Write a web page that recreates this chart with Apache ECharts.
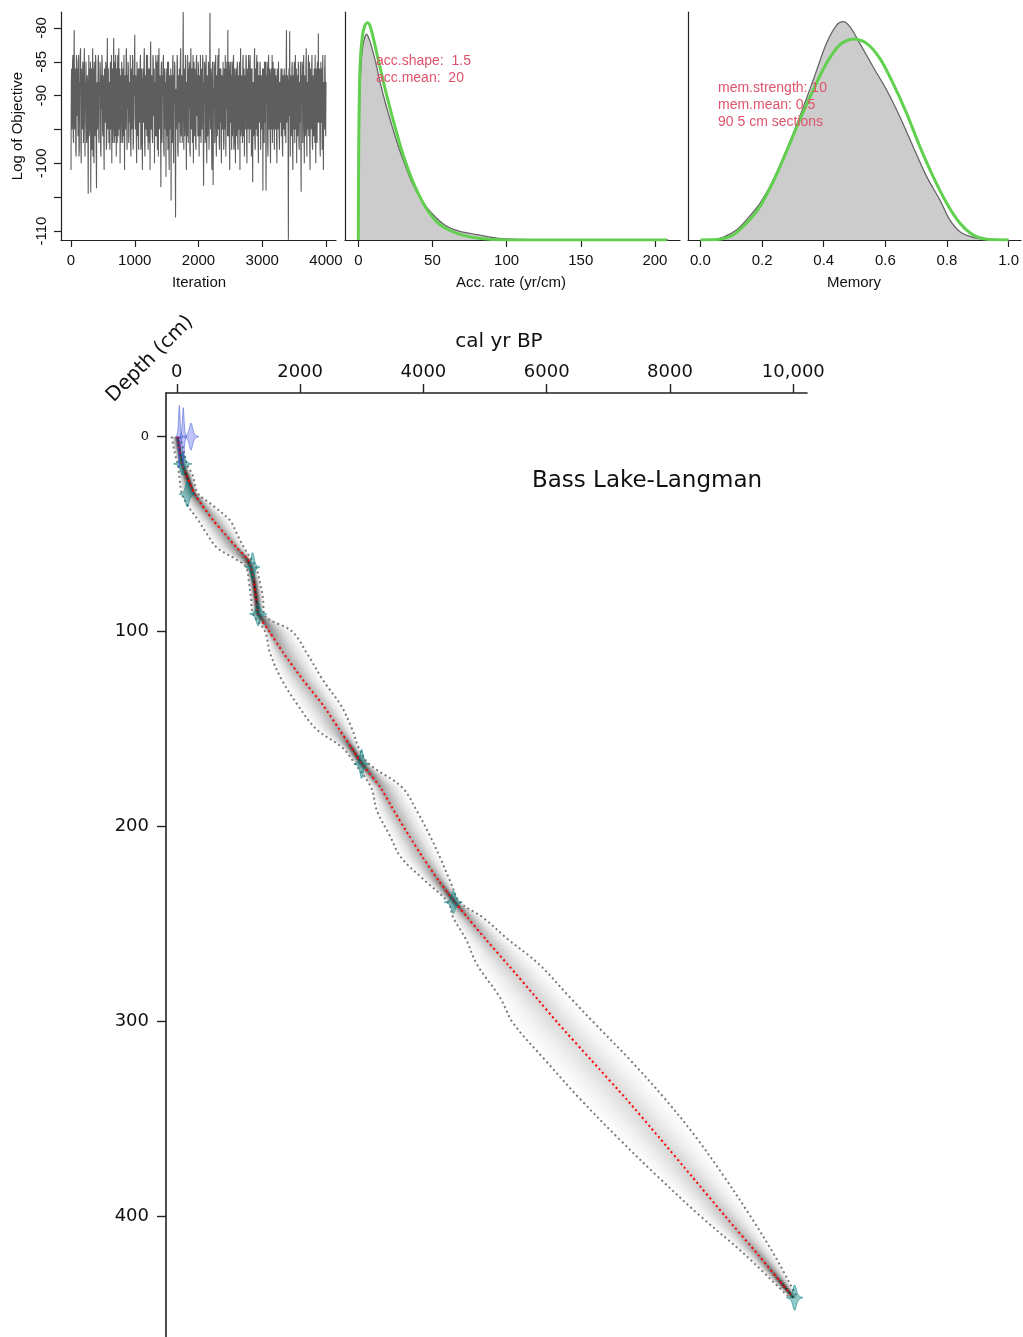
<!DOCTYPE html>
<html><head><meta charset="utf-8">
<script src="https://cdn.jsdelivr.net/npm/echarts@6/dist/echarts.min.js"></script>
<style>html,body{margin:0;padding:0;background:#fff}#c{width:1023px;height:1337px}</style>
</head><body><div id="c"></div>
<script>
// ---------- MCMC trace (Log of Objective) ----------
const traceStep = 5;
const traceValues = [
-101,-88,-86,-95,-93,-85,-84,-96,-97,-87,-80.3,-94,-95,-86,-87,-98,-99,-84,-85,-93,-92,-86,-96,-85,-84,-99,-98,-88,-89,-84,-83,-97,-100,-86,-88,-95,-94,-85,-86,-97,
-97,-86,-83,-94,-99,-88,-90,-85,-85,-97,-96,-87,-88,-95,-104.5,-89,-84,-96,-95,-86,-91,-85,-104.3,-90,-86,-95,-98,-87,-83,-99,-93,-86,-100,-85,-87,-96,-95,-84,-85,-98,
-103.7,-89,-88,-95,-94,-85,-84,-96,-97,-88,-90,-85,-86,-98,-99,-87,-92,-84,-85,-95,-96,-87,-89,-97,-101,-86,-87,-94,-94,-85,-86,-98,-97,-88,-81.5,-93,-95,-86,-91,-97,
-88,-96,-98,-86,-85,-95,-93,-84,-100,-89,-86,-97,-95,-87,-81.5,-92,-97,-85,-89,-96,-84,-93,-99,-86,-91,-97,-86,-84,-96,-88,-83,-95,-94,-86,-100,-87,-88,-97,-92,-85,
-85,-94,-97,-86,-90,-96,-84,-93,-101,-88,-87,-95,-95,-84,-83,-96,-98,-87,-92,-85,-86,-97,-96,-88,-89,-94,-84,-97,-99,-86,-88,-95,-94,-84,-85,-98,-97,-87,-90,-86,
-81,-93,-95,-87,-88,-97,-100,-85,-85,-96,-93,-86,-98,-89,-86,-94,-91,-85,-84,-98,-97,-86,-89,-95,-101,-88,-86,-93,-94,-85,-83,-97,-99,-87,-90,-95,-87,-84,-96,-88,
-84,-95,-98,-86,-92,-97,-86,-89,-101,-85,-82,-94,-95,-87,-89,-96,-97,-84,-85,-93,-93,-86,-100,-89,-88,-96,-84,-87,-96,-85,-91,-98,-86,-84,-99,-89,-83,-95,-94,-87,
-88,-95,-103.5,-86,-85,-97,-96,-87,-90,-85,-84,-98,-99,-86,-87,-94,-95,-88,-102,-86,-86,-96,-93,-85,-98,-89,-85,-97,-101,-87,-89,-95,-94,-86,-105.5,-88,-87,-96,-97,-85,
-84,-96,-100,-87,-91,-85,-86,-97,-108,-90,-89,-95,-95,-84,-85,-98,-99,-87,-90,-94,-86,-93,-97,-85,-83,-95,-96,-87,-88,-97,-91,-86,-77.6,-93,-98,-86,-87,-96,-94,-84,
-85,-95,-101,-88,-89,-96,-84,-93,-97,-86,-92,-85,-86,-98,-99,-87,-83,-94,-95,-86,-90,-97,-87,-84,-100,-89,-85,-96,-94,-86,-88,-97,-98,-85,-84,-93,-92,-87,-96,-85,
-86,-94,-99,-87,-90,-96,-84,-93,-97,-86,-88,-95,-95,-84,-85,-97,-103.3,-88,-91,-85,-87,-97,-96,-86,-84,-95,-100,-87,-89,-96,-93,-85,-86,-98,-98,-87,-77.8,-92,-95,-86,
-88,-96,-101,-87,-85,-94,-103.2,-89,-92,-85,-86,-97,-97,-86,-84,-95,-99,-87,-90,-96,-87,-84,-95,-88,-83,-97,-98,-86,-91,-94,-86,-97,-100,-87,-88,-95,-94,-85,-85,-98,
-97,-86,-89,-95,-84,-93,-99,-86,-92,-85,-86,-96,-80.3,-92,-96,-85,-88,-97,-101,-86,-85,-94,-93,-87,-98,-85,-87,-96,-90,-85,-84,-98,-97,-86,-89,-94,-100,-87,-86,-96,
-94,-86,-85,-97,-98,-87,-90,-95,-86,-85,-101,-88,-83,-96,-95,-87,-88,-93,-97,-85,-84,-96,-92,-86,-99,-88,-87,-95,-95,-84,-85,-97,-100,-86,-89,-95,-93,-84,-86,-97,
-97,-86,-84,-95,-91,-86,-99,-87,-86,-94,-102.8,-89,-88,-96,-95,-85,-83,-97,-98,-86,-90,-95,-86,-84,-96,-89,-85,-97,-100,-87,-89,-94,-94,-85,-86,-98,-98,-87,-87,-95,
-92,-86,-104,-88,-86,-96,-97,-85,-89,-94,-85,-96,-104,-87,-91,-85,-87,-97,-99,-86,-84,-93,-95,-86,-88,-97,-100,-87,-86,-95,-93,-84,-97,-89,-85,-95,-90,-86,-98,-88,
-86,-94,-95,-87,-89,-97,-100,-86,-87,-95,-93,-85,-85,-96,-98,-88,-90,-94,-88,-86,-96,-89,-86,-97,-99,-87,-91,-95,-88,-86,-94,-96,-87,-89,-97,-86,-80.3,-94,-92,-87,
-89,-95,-111.3,-88,-86,-93,-80.5,-91,-99,-87,-88,-96,-95,-86,-85,-97,-101,-87,-90,-95,-86,-85,-97,-89,-84,-95,-93,-86,-100,-88,-87,-96,-94,-85,-86,-97,-98,-88,-89,-94,
-85,-96,-104.2,-87,-91,-85,-86,-97,-97,-86,-84,-95,-100,-87,-88,-96,-95,-86,-83,-94,-99,-88,-90,-95,-86,-84,-96,-89,-85,-97,-101,-86,-89,-95,-93,-86,-84,-97,-98,-87,
-87,-96,-95,-86,-90,-97,-84,-93,-100,-87,-86,-95,-97,-85,-88,-94,-80.8,-90,-94,-87,-86,-97,-99,-88,-85,-94,-92,-86,-98,-87,-84,-96,-101,-88,-89,-95,-86,-84,-91,-96,
-88];
const traceXTicks = [0, 1000, 2000, 3000, 4000];
const traceYTicks = [-110, -105, -100, -95, -90, -85, -80];
const traceYLabels = [-110, -100, -90, -85, -80];

// ---------- Accumulation rate ----------
const accPostX = [0, 0.5, 1.5, 3, 5.6, 7.9, 11.3, 14.6, 18.0, 22.5, 27.0, 31.5, 36.0, 42.7, 49.5, 58.5, 67.4, 80.9, 94.4, 110, 130, 209];
const accPostY = [0, 0.018, 0.029, 0.034, 0.0361, 0.0348, 0.0316, 0.0278, 0.0243, 0.0202, 0.0164, 0.0132, 0.0102, 0.0070, 0.0047, 0.0026, 0.0016, 0.0009, 0.0003, 0.0001, 0, 0];
const accPriorX = [0, 0.3, 1.15, 2.72, 4.52, 6.32, 8.11, 10.13, 13.5, 16.9, 20.2, 24.7, 29.2, 33.7, 38.2, 42.7, 47.2, 54.0, 60.7, 69.7, 80.9, 98.9, 208];
const accPriorY = [0, 0.017, 0.0304, 0.0357, 0.0377, 0.0381, 0.0374, 0.0354, 0.0316, 0.0278, 0.0243, 0.0199, 0.0158, 0.0123, 0.0094, 0.0070, 0.0050, 0.0029, 0.0018, 0.0009, 0.0003, 0, 0];
const accTicks = [0, 50, 100, 150, 200];

// ---------- Memory ----------
const memPostX = [0.04, 0.073, 0.117, 0.149, 0.193, 0.236, 0.279, 0.322, 0.366, 0.409, 0.442, 0.463, 0.485, 0.517, 0.560, 0.604, 0.647, 0.690, 0.734, 0.777, 0.809, 0.842, 0.885, 0.939];
const memPostY = [0, 0.033, 0.123, 0.246, 0.451, 0.737, 1.105, 1.514, 1.965, 2.415, 2.640, 2.681, 2.620, 2.415, 2.128, 1.842, 1.514, 1.146, 0.778, 0.491, 0.246, 0.102, 0.033, 0];
const memPriorX = [0, 0.063, 0.106, 0.149, 0.193, 0.236, 0.279, 0.322, 0.366, 0.409, 0.452, 0.495, 0.539, 0.582, 0.625, 0.669, 0.712, 0.755, 0.799, 0.842, 0.885, 0.929, 1.0];
const memPriorY = [0, 0.008, 0.061, 0.205, 0.409, 0.716, 1.085, 1.474, 1.842, 2.170, 2.395, 2.468, 2.415, 2.231, 1.924, 1.556, 1.146, 0.778, 0.451, 0.205, 0.061, 0.008, 0];
const memTicks = [0, 0.2, 0.4, 0.6, 0.8, 1.0];

// ---------- Age-depth model ----------
const modelDepth = [0,5,10,14,20,29,35,43,50,57,63,67,75,83,91,100,111,125,138,150,160,168,180,192,205,216,228,239,247,258,271,288,301,320,340,360,380,400,420,442];
const modelMin  = [-83,-54,-21,15,40,80,170,349,490,652,960,1122,1171,1204,1236,1430,1512,1706,1966,2258,2696,2890,3150,3247,3458,3637,4026,4399,4485,4690,4870,5244,5454,5973,6541,7157,7806,8487,9217,9935];
const modelMean = [14,38,62,85,160,285,405,592,782,972,1155,1204,1252,1285,1317,1500,1728,2050,2376,2630,2840,3004,3300,3520,3770,3990,4250,4513,4720,5010,5370,5830,6180,6720,7290,7830,8360,8890,9430,9999];
const modelMax  = [52,92,133,160,260,340,571,863,976,1090,1210,1285,1350,1398,1414,1870,2107,2371,2663,2842,2955,3118,3653,3891,4108,4269,4432,4594,4972,5370,5880,6380,6770,7354,7920,8430,8880,9300,9690,10064];

// calibrated dates (teal)
const calDepth = [14, 29.5, 67, 91, 168, 239, 442];
const calAge   = [95, 170, 1229, 1320, 2998, 4486, 10021];
const calErr   = [36, 32, 28, 34, 28, 36, 32];
// non-calibrated dates (blue)
const c0Depth = [0, 0, 0];
const c0Age   = [41, 105, 230];
const c0Err   = [13, 14, 30];

const ageTicks = [0, 2000, 4000, 6000, 8000, 10000];
const depthTicks = [0, 100, 200, 300, 400];

// ---------- rendering ----------
const chart = echarts.init(document.getElementById('c'), null, {renderer: 'canvas'});
const TOP_FONT = 'Liberation Sans';
const MAIN_FONT = 'DejaVu Sans';
const pink = '#DF536B';
const green = '#61D04F';

function pairs(xs, ys) { return xs.map((x, i) => [x, ys[i]]); }

function grey(v) { const g = Math.round(255 * (1 - v)); return 'rgb(' + g + ',' + g + ',' + g + ')'; }

function renderBand(params, api) {
  const i = params.dataIndex;
  if (i >= modelDepth.length - 1) return null;
  const a0 = api.coord([modelMean[i], modelDepth[i]]);
  const a1 = api.coord([modelMean[i + 1], modelDepth[i + 1]]);
  const n = Math.max(1, Math.ceil(Math.abs(a1[1] - a0[1]) / 2));
  const lerp = (arr, t) => arr[i] + (arr[i + 1] - arr[i]) * t;
  const children = [];
  for (let k = 0; k < n; k++) {
    const t0 = k / n, t1 = (k + 1) / n, tm = (t0 + t1) / 2;
    const d0 = lerp(modelDepth, t0), d1 = lerp(modelDepth, t1), dm = lerp(modelDepth, tm);
    const L0 = api.coord([lerp(modelMin, t0), d0]), R0 = api.coord([lerp(modelMax, t0), d0]);
    const L1 = api.coord([lerp(modelMin, t1), d1]), R1 = api.coord([lerp(modelMax, t1), d1]);
    const Lm = api.coord([lerp(modelMin, tm), dm]), Rm = api.coord([lerp(modelMax, tm), dm]);
    const Mm = api.coord([lerp(modelMean, tm), dm]);
    const w = Math.max(1, Rm[0] - Lm[0]);
    const a = Math.min(0.9, 12 / w);
    const c = Math.min(0.9, Math.max(0.1, (Mm[0] - Lm[0]) / w));
    const stops = [
      {offset: 0, color: '#ffffff'},
      {offset: c * 0.45, color: grey(a * 0.35)},
      {offset: c, color: grey(a)},
      {offset: c + (1 - c) * 0.55, color: grey(a * 0.35)},
      {offset: 1, color: '#ffffff'}
    ];
    children.push({
      type: 'polygon',
      shape: {points: [[L0[0], L0[1]], [R0[0], R0[1]], [R1[0], R1[1] + 0.6], [L1[0], L1[1] + 0.6]]},
      style: {fill: new echarts.graphic.LinearGradient(Lm[0], Mm[1], Rm[0], Mm[1] + 0.001, stops, true)}
    });
  }
  return {type: 'group', children};
}

function makeDateRender(ages, depths, errs, fill, stroke) {
  return function (params, api) {
    const i = params.dataIndex;
    const c = api.coord([ages[i], depths[i]]);
    const e = api.coord([ages[i] + errs[i], depths[i]]);
    const s = Math.max(0.3, Math.abs(e[0] - c[0]));
    const H = Math.min(34, 25 / s);
    const up = [], dn = [];
    for (let k = 0; k <= 80; k++) {
      const z = -4 + 8 * k / 80;
      const f = Math.pow(1 + z * z / 3, -2);
      up.push([c[0] + z * s, c[1] - H * f]);
      dn.push([c[0] + z * s, c[1] + H * f]);
    }
    return {type: 'polygon', shape: {points: up.concat(dn.reverse())}, style: {fill, stroke, lineWidth: 1}};
  };
}

const topAxisLine = {show: true, onZero: false, lineStyle: {color: '#222', width: 1.2}};
const topLabel = {fontFamily: TOP_FONT, fontSize: 15, color: '#111', margin: 13};

function topX(gi, min, max, ticks, fmt) {
  return {
    gridIndex: gi, type: 'value', min, max, position: 'bottom',
    axisLine: topAxisLine,
    axisTick: {show: true, length: 7, customValues: ticks, lineStyle: {color: '#222', width: 1.2}},
    axisLabel: Object.assign({show: true, customValues: ticks, formatter: fmt || (v => String(v))}, topLabel),
    splitLine: {show: false}
  };
}

const option = {
  animation: false,
  backgroundColor: '#ffffff',
  grid: [
    {left: 61, top: 12, width: 275, height: 228, containLabel: false, outerBoundsMode: 'none'},
    {left: 345, top: 12, width: 335, height: 228, containLabel: false, outerBoundsMode: 'none'},
    {left: 688, top: 12, width: 333, height: 228, containLabel: false, outerBoundsMode: 'none'},
    {left: 166, top: 393, width: 641, height: 944, containLabel: false, outerBoundsMode: 'none'}
  ],
  xAxis: [
    topX(0, -156.9, 4156.9, traceXTicks),
    topX(1, -8.97, 216.9, accTicks),
    topX(2, -0.0403, 1.04, memTicks, v => v.toFixed(1)),
    {
      gridIndex: 3, type: 'value', min: -175, max: 10222, position: 'top',
      axisLine: {show: true, onZero: false, lineStyle: {color: '#222', width: 1.6}},
      axisTick: {show: true, length: 9, customValues: ageTicks, lineStyle: {color: '#222', width: 1.4}},
      axisLabel: {show: true, customValues: ageTicks, fontFamily: MAIN_FONT, fontSize: 18, color: '#111', margin: 12,
        formatter: v => v === 10000 ? '10,000' : String(v)},
      splitLine: {show: false}
    }
  ],
  yAxis: [
    {
      gridIndex: 0, type: 'value', min: -111.33, max: -77.64,
      axisLine: topAxisLine,
      axisTick: {show: true, length: 7, customValues: traceYTicks, lineStyle: {color: '#222', width: 1.2}},
      axisLabel: Object.assign({show: true, customValues: traceYLabels, rotate: 90, formatter: v => String(v)}, topLabel, {margin: 12}),
      splitLine: {show: false}
    },
    {
      gridIndex: 1, type: 'value', min: 0, max: 0.04,
      axisLine: topAxisLine, axisTick: {show: false}, axisLabel: {show: false}, splitLine: {show: false}
    },
    {
      gridIndex: 2, type: 'value', min: 0, max: 2.8,
      axisLine: topAxisLine, axisTick: {show: false}, axisLabel: {show: false}, splitLine: {show: false}
    },
    {
      gridIndex: 3, type: 'value', min: -22.4, max: 462.2, inverse: true,
      axisLine: {show: true, onZero: false, lineStyle: {color: '#222', width: 1.6}},
      axisTick: {show: true, length: 9, customValues: depthTicks, lineStyle: {color: '#222', width: 1.4}},
      axisLabel: {show: true, customValues: depthTicks, fontFamily: MAIN_FONT, fontSize: 18, color: '#111', margin: 17,
        formatter: v => v === 0 ? '{s|0}' : String(v),
        rich: {s: {fontFamily: MAIN_FONT, fontSize: 13, color: '#111'}}},
      splitLine: {show: false}
    }
  ],
  series: [
    {
      type: 'line', xAxisIndex: 0, yAxisIndex: 0, showSymbol: false, symbol: 'none',
      data: traceValues.map((v, i) => [i * traceStep, v]),
      lineStyle: {color: '#5e5e5e', width: 1.1}
    },
    {
      type: 'line', xAxisIndex: 1, yAxisIndex: 1, symbol: 'none', smooth: 0.3,
      data: pairs(accPostX, accPostY),
      lineStyle: {color: '#666', width: 1.3}, areaStyle: {color: '#cccccc', opacity: 1}
    },
    {
      type: 'line', xAxisIndex: 1, yAxisIndex: 1, symbol: 'none', smooth: 0.3,
      data: pairs(accPriorX, accPriorY),
      lineStyle: {color: green, width: 3}
    },
    {
      type: 'line', xAxisIndex: 2, yAxisIndex: 2, symbol: 'none', smooth: 0.3,
      data: pairs(memPostX, memPostY),
      lineStyle: {color: '#666', width: 1.3}, areaStyle: {color: '#cccccc', opacity: 1}
    },
    {
      type: 'line', xAxisIndex: 2, yAxisIndex: 2, symbol: 'none', smooth: 0.3,
      data: pairs(memPriorX, memPriorY),
      lineStyle: {color: green, width: 3}
    },
    {
      type: 'custom', xAxisIndex: 3, yAxisIndex: 3, z: 1,
      data: pairs(modelMean, modelDepth), encode: {x: 0, y: 1},
      renderItem: renderBand
    },
    {
      type: 'line', xAxisIndex: 3, yAxisIndex: 3, symbol: 'none', z: 3, smooth: 0.35,
      data: pairs(modelMin, modelDepth),
      lineStyle: {color: '#7a7a7a', width: 2, type: [2, 3]}
    },
    {
      type: 'line', xAxisIndex: 3, yAxisIndex: 3, symbol: 'none', z: 3, smooth: 0.35,
      data: pairs(modelMax, modelDepth),
      lineStyle: {color: '#7a7a7a', width: 2, type: [2, 3]}
    },
    {
      type: 'line', xAxisIndex: 3, yAxisIndex: 3, symbol: 'none', z: 4, smooth: 0.2,
      data: pairs(modelMean, modelDepth),
      lineStyle: {color: '#ff0000', width: 2, type: [2, 3]}
    },
    {
      type: 'custom', xAxisIndex: 3, yAxisIndex: 3, z: 5,
      data: pairs(calAge, calDepth), encode: {x: 0, y: 1},
      renderItem: makeDateRender(calAge, calDepth, calErr, 'rgba(0,128,128,0.42)', 'rgba(0,128,128,0.6)')
    },
    {
      type: 'custom', xAxisIndex: 3, yAxisIndex: 3, z: 5,
      data: pairs(c0Age, c0Depth), encode: {x: 0, y: 1},
      renderItem: makeDateRender(c0Age, c0Depth, c0Err, 'rgba(40,60,230,0.3)', 'rgba(60,80,210,0.5)')
    }
  ],
  graphic: [
    {type: 'text', x: 18, y: 126, rotation: Math.PI / 2, z: 10,
      style: {text: 'Log of Objective', fill: '#111', font: '15px "' + TOP_FONT + '"', align: 'center', verticalAlign: 'middle', textAlign: 'center', textVerticalAlign: 'middle'}},
    {type: 'text', x: 199, y: 283, z: 10,
      style: {text: 'Iteration', fill: '#111', font: '15px "' + TOP_FONT + '"', align: 'center', verticalAlign: 'middle', textAlign: 'center', textVerticalAlign: 'middle'}},
    {type: 'text', x: 511, y: 283, z: 10,
      style: {text: 'Acc. rate (yr/cm)', fill: '#111', font: '15px "' + TOP_FONT + '"', align: 'center', verticalAlign: 'middle', textAlign: 'center', textVerticalAlign: 'middle'}},
    {type: 'text', x: 854, y: 283, z: 10,
      style: {text: 'Memory', fill: '#111', font: '15px "' + TOP_FONT + '"', align: 'center', verticalAlign: 'middle', textAlign: 'center', textVerticalAlign: 'middle'}},
    {type: 'text', x: 376, y: 61, z: 10,
      style: {text: 'acc.shape:  1.5', fill: pink, font: '14px "' + TOP_FONT + '"', align: 'left', verticalAlign: 'middle', textAlign: 'left', textVerticalAlign: 'middle'}},
    {type: 'text', x: 376, y: 78, z: 10,
      style: {text: 'acc.mean:  20', fill: pink, font: '14px "' + TOP_FONT + '"', align: 'left', verticalAlign: 'middle', textAlign: 'left', textVerticalAlign: 'middle'}},
    {type: 'text', x: 718, y: 88, z: 10,
      style: {text: 'mem.strength: 10', fill: pink, font: '14px "' + TOP_FONT + '"', align: 'left', verticalAlign: 'middle', textAlign: 'left', textVerticalAlign: 'middle'}},
    {type: 'text', x: 718, y: 105, z: 10,
      style: {text: 'mem.mean: 0.5', fill: pink, font: '14px "' + TOP_FONT + '"', align: 'left', verticalAlign: 'middle', textAlign: 'left', textVerticalAlign: 'middle'}},
    {type: 'text', x: 718, y: 122, z: 10,
      style: {text: '90 5 cm sections', fill: pink, font: '14px "' + TOP_FONT + '"', align: 'left', verticalAlign: 'middle', textAlign: 'left', textVerticalAlign: 'middle'}},
    {type: 'text', x: 499, y: 342, z: 10,
      style: {text: 'cal yr BP', fill: '#111', font: '20px "' + MAIN_FONT + '"', align: 'center', verticalAlign: 'middle', textAlign: 'center', textVerticalAlign: 'middle'}},
    {type: 'text', x: 150, y: 359, rotation: Math.PI / 4, z: 10,
      style: {text: 'Depth (cm)', fill: '#111', font: '20px "' + MAIN_FONT + '"', align: 'center', verticalAlign: 'middle', textAlign: 'center', textVerticalAlign: 'middle'}},
    {type: 'text', x: 647, y: 481, z: 10,
      style: {text: 'Bass Lake-Langman', fill: '#111', font: '23px "' + MAIN_FONT + '"', align: 'center', verticalAlign: 'middle', textAlign: 'center', textVerticalAlign: 'middle'}}
  ]
};
chart.setOption(option);
</script>
</body></html>
